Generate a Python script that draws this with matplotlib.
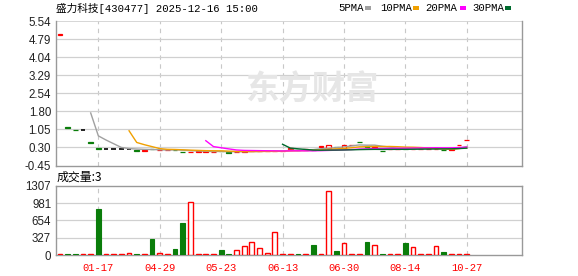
import matplotlib
matplotlib.use("Agg")
import matplotlib.pyplot as plt
from matplotlib.patches import Rectangle
import numpy as np
import pandas as pd

# ---------------- data ----------------
title = "盛力科技[430477] 2025-12-16 15:00"
opens = [4.98, 1.13, 1.04, 1.02, 0.51, 0.27, 0.25, 0.25, 0.25, 0.25,
         0.18, 0.17, 0.23, 0.19, 0.19, 0.19, 0.13, 0.11, 0.13, 0.13,
         0.11, 0.15, 0.09, 0.12, 0.13, 0.14, 0.14, 0.14, 0.15, 0.15,
         0.25, 0.21, 0.21, 0.21, 0.33, 0.27, 0.31, 0.28, 0.41, 0.54,
         0.34, 0.26, 0.17, 0.23, 0.23, 0.23, 0.24, 0.24, 0.24, 0.24,
         0.19, 0.21, 0.40, 0.60]
closes = [5.00, 1.11, 1.02, 1.02, 0.49, 0.25, 0.25, 0.25, 0.25, 0.25,
          0.16, 0.18, 0.22, 0.20, 0.20, 0.18, 0.12, 0.12, 0.14, 0.14,
          0.12, 0.14, 0.08, 0.13, 0.14, 0.15, 0.15, 0.15, 0.16, 0.16,
          0.26, 0.20, 0.22, 0.20, 0.34, 0.38, 0.30, 0.38, 0.42, 0.53,
          0.33, 0.31, 0.16, 0.24, 0.24, 0.22, 0.25, 0.25, 0.25, 0.25,
          0.18, 0.22, 0.41, 0.61]
volumes = [12, 12, 12, 12, 12, 865, 12, 12, 12, 30,
           12, 12, 297, 30, 12, 107, 606, 1000, 25, 12,
           12, 88, 15, 88, 177, 240, 139, 32, 429, 12,
           12, 12, 12, 183, 12, 1206, 69, 221, 12, 12,
           240, 196, 12, 12, 12, 221, 158, 12, 12, 177,
           50, 12, 12, 12]
vol_dir = ['r', 'g', 'g', 'r', 'r', 'g', 'r', 'r', 'r', 'r',
           'g', 'r', 'g', 'r', 'r', 'g', 'g', 'r', 'r', 'r',
           'r', 'g', 'g', 'r', 'r', 'r', 'r', 'r', 'r', 'r',
           'r', 'g', 'r', 'g', 'r', 'r', 'g', 'r', 'r', 'r',
           'g', 'r', 'g', 'r', 'r', 'g', 'r', 'r', 'r', 'r',
           'g', 'r', 'r', 'r']
xtick_pos = [5, 13, 21, 29, 37, 45, 53]
xtick_labels = ["01-17", "04-29", "05-23", "06-13", "06-30", "08-14", "10-27"]
price_ticks = [5.54, 4.79, 4.04, 3.29, 2.54, 1.80, 1.05, 0.30, -0.45]
vol_ticks = [0, 327, 654, 981, 1307]
ma_periods = [5, 10, 20, 30]
ma_names = ["5PMA", "10PMA", "20PMA", "30PMA"]
ma_colors = ["#a0a0a0", "#f0a000", "#ff00ff", "#006b2e"]
vol_label = "成交量:3"

RED = "#ff0000"
GREEN = "#0a7d0a"
W, H = 578, 276
mono = ['Liberation Mono', 'Noto Sans CJK SC']
cjk = ['Noto Sans CJK SC', 'DejaVu Sans']

n = len(closes)
x = np.arange(n)
o = np.array(opens)
c = np.array(closes)

fig = plt.figure(figsize=(W / 100, H / 100), dpi=100)
fig.patch.set_facecolor("white")

def fx(px):
    return px / W

def fy(py):
    return 1 - py / H

ax = fig.add_axes([fx(56), fy(165.5), fx(522) - fx(56), fy(21) - fy(165.5)])
axv = fig.add_axes([fx(56), fy(255), fx(522) - fx(56), fy(186) - fy(255)])

xl = (-0.52, 60.2)
for a in (ax, axv):
    a.set_xlim(*xl)
    a.set_facecolor("white")
    for s in a.spines.values():
        s.set_color("#999999")
        s.set_linewidth(1.0)
    a.tick_params(axis='both', length=0)
    a.set_xticks(xtick_pos)
    for xp in xtick_pos:
        a.axvline(xp, color="#c8c8c8", lw=0.8, ls=(0, (4, 4)), zorder=1)

# ---- price panel ----
ax.set_ylim(-0.45, 5.54)
ax.set_yticks(price_ticks)
ax.set_yticklabels([f"{t:.2f}" for t in price_ticks], family='Liberation Sans',
                   fontsize=8.3, color="#222222")
ax.set_xticklabels([])
for t in price_ticks[1:-1]:
    ax.axhline(t, color="#d0d0d0", lw=0.9, zorder=1)
ax.axhline(5.54, color="#d0d0d0", lw=1.2, zorder=1)
ax.spines['top'].set_visible(False)

# watermark
fig.text(fx(312), fy(90), "东方财富", family=cjk, fontsize=24, fontweight='bold',
         color="#e6e6e6", ha='center', va='center', zorder=0)

bw = 0.62
for i in range(n):
    if c[i] > o[i]:
        ax.add_patch(Rectangle((i - bw / 2, o[i]), bw, c[i] - o[i], facecolor="white",
                               edgecolor=RED, lw=0.9, zorder=3))
    elif c[i] < o[i]:
        ax.add_patch(Rectangle((i - bw / 2, c[i]), bw, o[i] - c[i], facecolor=GREEN,
                               edgecolor=GREEN, lw=0.9, zorder=3))
    else:
        ax.hlines(c[i], i - bw / 2, i + bw / 2, color="black", lw=1.2, zorder=3)

cs = pd.Series(closes)
for p, col in zip(ma_periods, ma_colors):
    ma = cs.rolling(p).mean()
    ax.plot(x, ma.values, color=col, lw=1.0, zorder=4)

# ---- volume panel ----
axv.set_ylim(0, 1307)
axv.set_yticks(vol_ticks)
axv.set_yticklabels([str(t) for t in vol_ticks], family='Liberation Sans',
                    fontsize=8.3, color="#222222")
for t in vol_ticks[1:-1]:
    axv.axhline(t, color="#d0d0d0", lw=0.9, zorder=1)
axv.set_xticklabels(xtick_labels, family='Liberation Mono', fontsize=7.6, color=RED)
axv.tick_params(axis='x', pad=6)

for i in range(n):
    if vol_dir[i] == 'g':
        axv.bar(i, volumes[i], width=bw, color=GREEN, edgecolor=GREEN, lw=0.8, zorder=3)
    else:
        axv.bar(i, volumes[i], width=bw, facecolor="white", edgecolor=RED, lw=1.0, zorder=3)

# ---- texts ----
fig.text(fx(56), fy(8), title, family=mono, fontsize=7.7, color="black",
         ha='left', va='center')
fig.text(fx(57), fy(177), vol_label, family=cjk, fontsize=8.6, color="black",
         ha='left', va='center')

leg_x = [338, 380, 425, 472]
sw_x = [365, 413, 460, 505]
for name, col, lx, sx in zip(ma_names, ma_colors, leg_x, sw_x):
    fig.text(fx(lx), fy(8), name, family=mono, fontsize=7.7, color="black",
             ha='left', va='center')
    fig.patches.append(Rectangle((fx(sx), fy(10)), fx(6), fy(6) - fy(10),
                                 transform=fig.transFigure, facecolor=col,
                                 edgecolor='none'))

fig.savefig("out.png", dpi=100, facecolor="white")
